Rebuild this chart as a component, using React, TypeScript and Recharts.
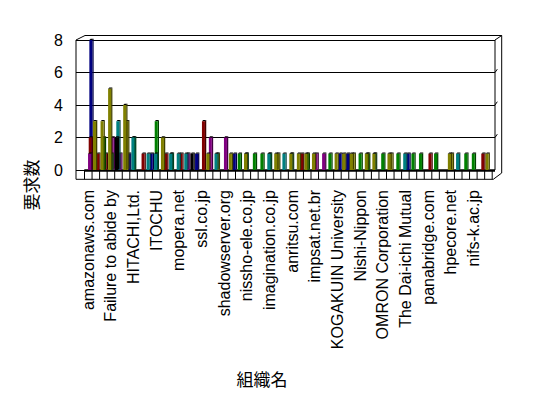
import { Bar, BarChart, CartesianGrid, Customized, XAxis, YAxis } from 'recharts';

// 54 organisations; only every third name is printed on the axis
const labels = [
  'amazonaws.com', 'Failure to abide by', 'HITACHI,Ltd.', 'ITOCHU', 'mopera.net', 'ssl.co.jp',
  'shadowserver.org', 'nissho-ele.co.jp', 'imagination.co.jp', 'anritsu.com', 'impsat.net.br',
  'KOGAKUIN University', 'Nishi-Nippon', 'OMRON Corporation', 'The Dai-ichi Mutual',
  'panabridge.com', 'hpecore.net', 'nifs-k.ac.jp',
];
const categories = Array.from({ length: 54 }, (_, i) => (i % 3 === 0 ? labels[i / 3] : ''));

const black = [0,0,0,0,2,0,0,0,0,0, 0,0,0,0,1,0,0,0,0,0, 0,0,0,0,0,0,0,0,0,0, 0,0,0,0,0,0,0,0,0,0, 0,0,0,0,0,0,0,0,0,0, 0,0,0,0];
const olive = [0,3,3,5,0,4,0,0,0,0, 2,0,0,0,0,0,1,0,0,1, 0,1,0,0,0,1,0,1,1,1, 1,0,0,1,1,1,0,1,1,0, 1,0,0,0,0,0,0,0,1,0, 0,0,0,1];
const teal = [0,0,0,0,3,0,2,0,1,1, 0,1,1,1,0,0,0,1,0,0, 0,1,0,0,1,0,1,1,0,0, 0,0,0,0,0,0,0,0,1,0, 0,0,1,0,0,0,0,0,0,1, 0,0,0,0];
const green = [0,0,2,1,0,0,2,0,0,3, 0,1,0,0,0,0,0,0,0,0, 1,0,1,1,1,0,0,0,0,1, 0,0,1,0,0,0,1,1,0,1, 0,1,0,1,1,0,1,0,0,0, 1,1,0,0];
const olive2 = [0,0,0,0,0,3,0,0,0,0, 0,0,0,0,0,0,0,1,0,0, 0,0,0,0,0,1,0,0,0,0, 0,0,0,0,0,1,0,0,0,0, 1,0,0,0,0,0,0,0,1,0, 0,0,0,0];
const purple = [1,0,0,2,1,0,0,0,0,0, 0,0,0,1,0,0,2,0,2,0, 0,0,0,0,0,0,0,0,0,0, 1,1,0,0,0,0,0,0,0,0, 0,0,0,0,0,0,0,0,0,0, 0,0,0,0];
const maroon = [2,1,1,0,0,0,0,1,0,0, 1,0,1,0,0,3,0,0,0,0, 0,0,0,0,0,0,0,0,1,0, 0,0,0,0,0,0,0,0,0,0, 0,0,0,0,0,1,0,0,0,0, 0,0,1,0];
const navy = [8,0,0,0,0,1,0,0,1,0, 0,0,0,0,1,0,0,0,0,1, 0,0,0,0,0,0,0,0,0,0, 0,0,0,1,1,0,0,0,0,0, 0,0,1,0,0,0,0,0,0,0, 0,0,0,0];

const yTicks = [0, 2, 4, 6, 8];

// back to front
const series = [
  { key: '系列1', values: navy, color: '#000080', side: '#000040', depth: 7 },
  { key: '系列2', values: maroon, color: '#800000', side: '#400000', depth: 6 },
  { key: '系列3', values: purple, color: '#800080', side: '#400040', depth: 5 },
  { key: '系列4', values: olive2, color: '#808000', side: '#404000', depth: 4 },
  { key: '系列5', values: green, color: '#008000', side: '#004000', depth: 3 },
  { key: '系列6', values: teal, color: '#008080', side: '#004040', depth: 2 },
  { key: '系列7', values: olive, color: '#808000', side: '#404000', depth: 1 },
  { key: '系列8', values: black, color: '#000000', side: '#000000', depth: 0 },
];

const data = categories.map((name, i) => {
  const row: Record<string, string | number> = { name };
  series.forEach((s) => (row[s.key] = s.values[i]));
  return row;
});

const W = 540;
const H = 390;
const BAND = 407.7 / 54;
const latin = '"Liberation Sans", Arial, sans-serif';
const cjk = '"Noto Sans CJK JP", sans-serif';

const bar3d = (color: string, side: string, depth: number) => (props: any) => {
  const { x, y, width, height } = props;
  if (!height || height <= 0) return <g />;
  const x0 = x - 1.7 + depth * 0.65;
  const d = 1.3;
  return (
    <g>
      <polygon
        points={`${x0 + width},${y} ${x0 + width + d},${y - d} ${x0 + width + d},${y + height - d} ${x0 + width},${y + height}`}
        fill={side}
      />
      <polygon points={`${x0},${y} ${x0 + d},${y - d} ${x0 + width + d},${y - d} ${x0 + width},${y}`} fill="#000" />
      <rect x={x0} y={y} width={width} height={height} fill={color} />
    </g>
  );
};

const CategoryTick = (props: any) => {
  const { x, y, index, payload } = props;
  return (
    <g>
      <line x1={x - BAND / 2} y1={y + 1} x2={x - BAND / 2} y2={y + 9.3} stroke="#000" />
      {index === categories.length - 1 && (
        <line x1={x + BAND / 2} y1={y + 1} x2={x + BAND / 2} y2={y + 9.3} stroke="#000" />
      )}
      {payload.value && (
        <text
          transform={`translate(${x},${y + 20}) rotate(-90)`}
          textAnchor="end"
          dominantBaseline="central"
          fontSize={16}
          fontFamily={latin}
          fill="#000"
        >
          {payload.value}
        </text>
      )}
    </g>
  );
};

const Frame = () => {
  const top = 32;
  const bottom = 162;
  const right = 487;
  const unit = (bottom - top) / 8;
  return (
    <g stroke="#000" fill="none">
      <line x1={68} y1={top} x2={68} y2={171.3} />
      <line x1={68} y1={top} x2={77} y2={27.5} />
      <line x1={77} y1={27.5} x2={493.7} y2={27.5} />
      <line x1={493.7} y1={27.5} x2={493.7} y2={165} />
      <line x1={right} y1={top} x2={right} y2={bottom} />
      <line x1={right} y1={top} x2={493.7} y2={27.5} />
      {[2, 4, 6].map((v) => (
        <line key={v} x1={right} y1={bottom - v * unit} x2={right + 2.3} y2={bottom - v * unit - 3.3} />
      ))}
      <line x1={76.3} y1={162.6} x2={right} y2={162.6} strokeWidth={2.5} />
      <line x1={68} y1={171.3} x2={485.3} y2={171.3} />
      <line x1={485.3} y1={171.3} x2={493.7} y2={165} />
      <text x={254} y={370} textAnchor="middle" dominantBaseline="central" fontSize={17} fontFamily={cjk} fill="#000" stroke="none">
        組織名
      </text>
      <text
        transform="translate(22,177) rotate(-90)"
        textAnchor="middle"
        dominantBaseline="central"
        fontSize={17}
        fontFamily={cjk}
        fill="#000"
        stroke="none"
      >
        要求数
      </text>
    </g>
  );
};

const App = () => {
  return (
    <div style={{ width: W, height: H, background: '#fff' }}>
      <BarChart
        width={W}
        height={H}
        data={data}
        margin={{ top: 32, right: 53, bottom: 0, left: 0 }}
        barSize={3}
        barGap={-3}
      >
        <CartesianGrid vertical={false} stroke="#000" shapeRendering="crispEdges" />
        <XAxis
          dataKey="name"
          interval={0}
          height={228}
          padding={{ left: 8.5, right: 2.8 }}
          axisLine={false}
          tickLine={false}
          tickSize={0}
          tickMargin={0}
          tick={<CategoryTick />}
        />
        <YAxis
          domain={[0, 8]}
          ticks={yTicks}
          width={68}
          axisLine={false}
          tickLine={false}
          tickSize={0}
          tickMargin={13}
          tick={{ fill: '#000', fontSize: 16, fontFamily: latin }}
        />
        {series.map((s) => (
          <Bar
            key={s.key}
            dataKey={s.key}
            fill={s.color}
            isAnimationActive={false}
            shape={bar3d(s.color, s.side, s.depth)}
          />
        ))}
        <Customized component={Frame} />
      </BarChart>
    </div>
  );
};

export default App;
